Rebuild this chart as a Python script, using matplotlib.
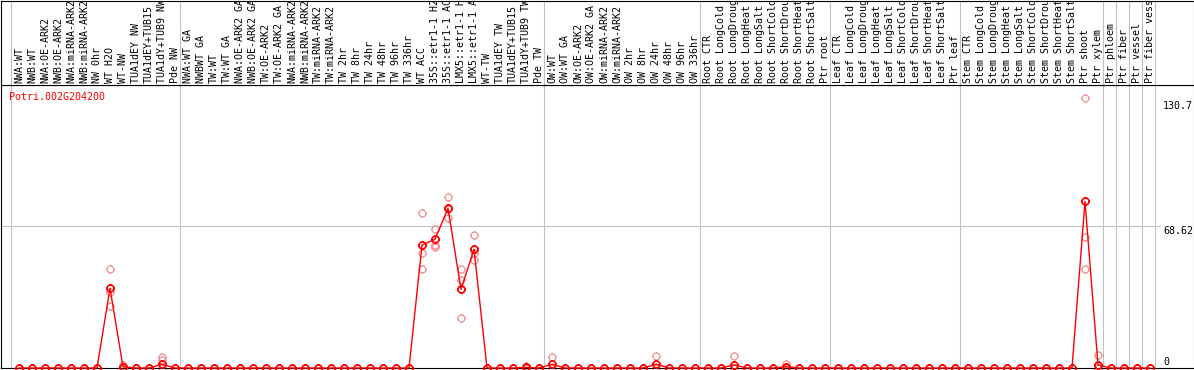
import matplotlib
matplotlib.use('Agg')
import matplotlib.pyplot as plt
from matplotlib.path import Path

# sample names, one per column, in plot order
groups = [
    ['NWA:WT', 'NWB:WT', 'NWA:OE-ARK2', 'NWB:OE-ARK2', 'NWA:miRNA-ARK2', 'NWB:miRNA-ARK2',
     'NW 0hr', 'WT H2O', 'WT-NW', 'TUA1dEY NW', 'TUA1dEY+TUB15', 'TUA1dY+TUB9 NW', 'Pde NW'],
    ['NWA:WT GA', 'NWBWT GA', 'TW:WT', 'TW:WT GA', 'NWA:OE-ARK2 GA', 'NWB:OE-ARK2 GA',
     'TW:OE-ARK2', 'TW:OE-ARK2 GA', 'NWA:miRNA-ARK2', 'NWB:miRNA-ARK2', 'TW:miRNA-ARK2',
     'TW:miRNA-ARK2', 'TW 2hr', 'TW 8hr', 'TW 24hr', 'TW 48hr', 'TW 96hr', 'TW 336hr',
     'WT ACC', '35S::etr1-1 H2', '35S::etr1-1 AC', 'LMX5::etr1-1 H', 'LMX5::etr1-1 A',
     'WT-TW', 'TUA1dEY TW', 'TUA1dEY+TUB15', 'TUA1dY+TUB9 TW', 'Pde TW'],
    ['OW:WT', 'OW:WT GA', 'OW:OE-ARK2', 'OW:OE-ARK2 GA', 'OW:miRNA-ARK2', 'OW:miRNA-ARK2',
     'OW 2hr', 'OW 8hr', 'OW 24hr', 'OW 48hr', 'OW 96hr', 'OW 336hr'],
    ['Root CTR', 'Root LongCold', 'Root LongDroug', 'Root LongHeat', 'Root LongSalt',
     'Root ShortCold', 'Root ShortDrou', 'Root ShortHeat', 'Root ShortSalt', 'Ptr root'],
    ['Leaf CTR', 'Leaf LongCold', 'Leaf LongDroug', 'Leaf LongHeat', 'Leaf LongSalt',
     'Leaf ShortCold', 'Leaf ShortDrou', 'Leaf ShortHeat', 'Leaf ShortSalt', 'Ptr leaf'],
    ['Stem CTR', 'Stem LongCold', 'Stem LongDroug', 'Stem LongHeat', 'Stem LongSalt',
     'Stem ShortCold', 'Stem ShortDrou', 'Stem ShortHeat', 'Stem ShortSalt', 'Ptr shoot',
     'Ptr xylem'],
    ['Ptr phloem'],
    ['Ptr fiber'],
    ['Ptr vessel'],
    ['Ptr fiber vess'],
]

# mean expression per column
means = [
    0, 0, 0, 0, 0, 0, 0, 38.6, 0.6, 0, 0, 1.8, 0,
    0, 0, 0, 0, 0, 0, 0, 0, 0, 0, 0, 0, 0, 0, 0, 0, 0, 0,
    59.5, 62.3, 77.3, 38.1, 57.5, 0, 0, 0, 0.3, 0,
    1.8, 0, 0, 0, 0, 0, 0, 0, 1.9, 0, 0, 0,
    0, 0, 1.5, 0, 0, 0, 0.6, 0, 0, 0,
    0, 0, 0, 0, 0, 0, 0, 0, 0, 0,
    0, 0, 0, 0, 0, 0, 0, 0, 0, 80.7, 1.5,
    0, 0, 0, 0,
]

# individual replicates where they differ visibly from zero
replicates = {
    7: [47.9, 36.9, 30.0],
    8: [1.5, 0.2, 0.1],
    11: [5.2, 3.8, 0.0],
    31: [74.9, 55.5, 47.8],
    32: [67.1, 59.5, 58.7],
    33: [82.6, 76.8, 72.5],
    34: [47.8, 42.6, 24.3],
    35: [64.4, 55.8, 52.3],
    39: [0.9, 0.0, 0.0],
    41: [5.3, 0.0, 0.0],
    49: [5.8, 0.0, 0.0],
    55: [5.6, 0.0, 0.0],
    59: [1.9, 0.0, 0.0],
    82: [130.7, 63.6, 47.8],
    83: [6.3, 0.0, 0.0],
}

gene = 'Potri.002G204200'
y_ticks = [130.7, 68.62, 0]

labels = [name for g in groups for name in g]
x = list(range(len(labels)))

W, H = 1194, 370
fig = plt.figure(figsize=(W / 100, H / 100), dpi=100)

# pixel layout of the original: column i sits at 19 + 13*i px
def px_to_col(p):
    return (p - 19) / 13.0

x_lo, x_hi = px_to_col(0.5), px_to_col(1193.5)

ax = fig.add_axes([0.5 / W, 2 / H, 1193 / W, 283 / H])
ax_lab = fig.add_axes([0.5 / W, 285 / H, 1193 / W, 84.5 / H])

mono = 'DejaVu Sans Mono'
fs = 7.2

for a in (ax, ax_lab):
    a.set_xlim(x_lo, x_hi)
    a.set_xticks([])
    a.set_yticks([])
    for s in a.spines.values():
        s.set_linewidth(0.8)
        s.set_color('black')
ax.set_ylim(0, 137)
ax_lab.set_ylim(0, 1)

# group separators
bounds = [0]
for g in groups:
    bounds.append(bounds[-1] + len(g))
for b in bounds:
    xb = b - 8 / 13.0
    ax.axvline(xb, color='#c0c0c0', lw=0.8, zorder=1)
    ax_lab.axvline(xb, color='#c0c0c0', lw=0.8, zorder=1)

ax.axhline(y_ticks[1], xmax=(px_to_col(1160) - x_lo) / (x_hi - x_lo),
           color='#c0c0c0', lw=0.8, zorder=1)

# sample labels
for i, name in enumerate(labels):
    ax_lab.text(i, 0.025, name, rotation=90, ha='center', va='bottom',
                fontsize=fs, family=mono, clip_on=True)

# circle marker with small ticks
circ = Path.unit_circle()
ticks = Path([(0, 1), (0, 1.3), (0, -1), (0, -1.3), (1, 0), (1.3, 0), (-1, 0), (-1.3, 0)],
             [Path.MOVETO, Path.LINETO] * 4)
mk = Path.make_compound_path(circ, ticks)

# replicate points
for i, vals in replicates.items():
    ax.plot([i] * len(vals), vals, linestyle='none', marker=mk, ms=6.5,
            mfc='none', mec='#f09090', mew=0.9, clip_on=False, zorder=2)

# mean line
ax.plot(x, means, color='red', lw=1.0, marker=mk, ms=6.5, mfc='none',
        mec='red', mew=1.2, clip_on=False, zorder=3)

# value labels on the right
offs = [-8, -5, 6]
for v, dy in zip(y_ticks, offs):
    ax.annotate(f'{v:g}', (px_to_col(1163), v), xytext=(0, dy), textcoords='offset pixels',
                ha='left', va='center', fontsize=fs, family=mono, annotation_clip=False)

fig.text(9 / W, 1 - 97 / H, gene, color='red', ha='left', va='center',
         fontsize=fs, family=mono)

fig.savefig('out.png', dpi=100)
